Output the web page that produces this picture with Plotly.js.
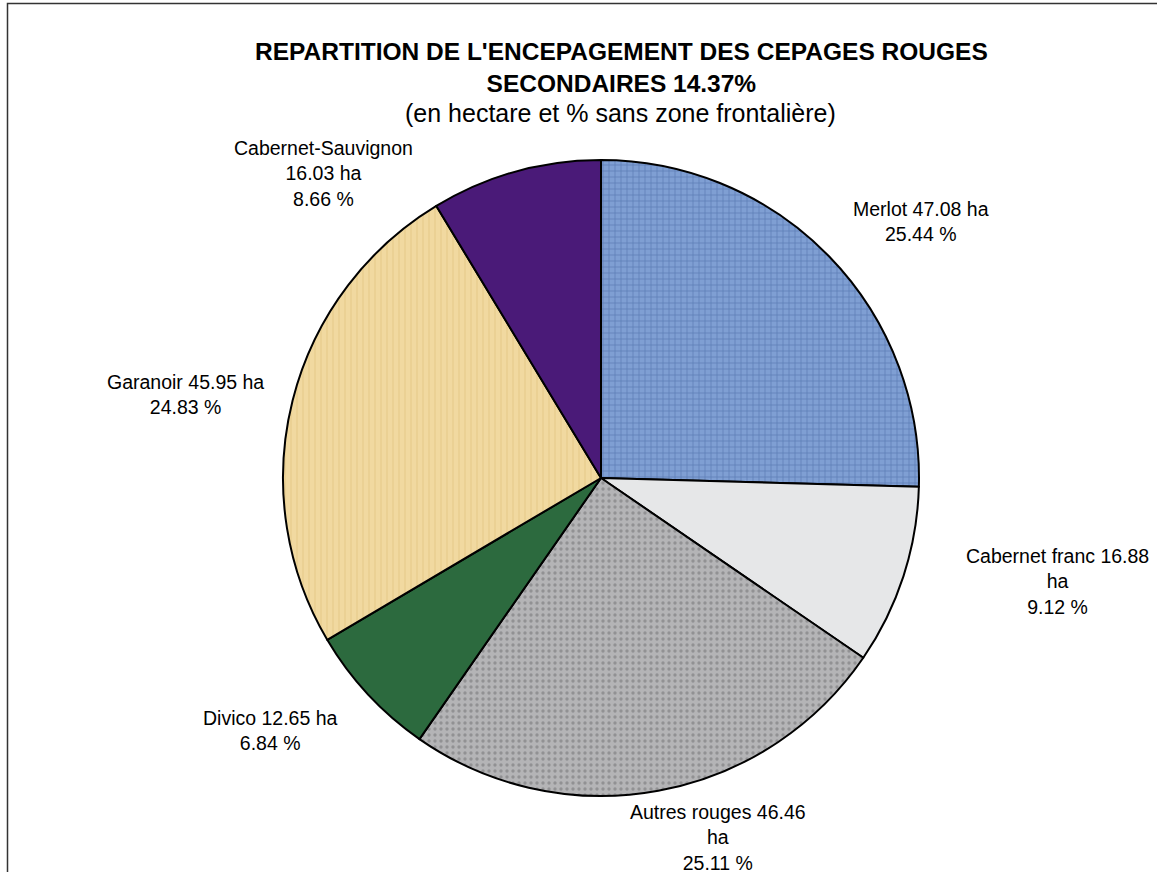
<!DOCTYPE html>
<html>
<head>
<meta charset="utf-8">
<script src="https://cdn.plot.ly/plotly-3.0.1.min.js"></script>
<style>html,body{margin:0;padding:0;background:#fff;}#chart{width:1157px;height:872px;}</style>
</head>
<body>
<div id="chart"></div>
<script>
const cepages = ["Merlot", "Cabernet franc", "Autres rouges", "Divico", "Garanoir", "Cabernet-Sauvignon"];
const hectares = [47.08, 16.88, 46.46, 12.65, 45.95, 16.03];
const pourcents = [25.44, 9.12, 25.11, 6.84, 24.83, 8.66];
const labelTexts = [
  "Merlot 47.08 ha<br>25.44 %",
  "Cabernet franc 16.88<br>ha<br>9.12 %",
  "Autres rouges 46.46<br>ha<br>25.11 %",
  "Divico 12.65 ha<br>6.84 %",
  "Garanoir 45.95 ha<br>24.83 %",
  "Cabernet-Sauvignon<br>16.03 ha<br>8.66 %"
];
const couleurs = ["#7f9fd3", "#e6e7e8", "#b4b4b6", "#2c6a3e", "#f1d9a0", "#4a1a78"];
const motifs = ["+", "", ".", "", "|", ""];
const motifCouleurs = ["#3d5f9a", "#ffffff", "#6e6e70", "#4f9a62", "#e2c47e", "#3a0f63"];
const labelPos = [
  [921, 221], [1057, 581], [718, 837], [270, 730], [185, 394], [323, 174]
];

const W = 1157, H = 872;
const cx = 601, cy = 478, R = 318;
const FONT = "Liberation Sans, Arial, Helvetica, sans-serif";

const trace = {
  type: "pie",
  labels: cepages,
  values: hectares,
  sort: false,
  direction: "clockwise",
  rotation: 0,
  textinfo: "none",
  hoverinfo: "label+value+percent",
  marker: {
    colors: couleurs,
    line: {color: "#000000", width: 2},
    pattern: {shape: motifs, fgcolor: motifCouleurs, size: 6, solidity: 0.25, fillmode: "overlay"}
  },
  domain: {x: [(cx - R) / W, (cx + R) / W], y: [1 - (cy + R) / H, 1 - (cy - R) / H]},
  showlegend: false
};

const annotations = labelTexts.map((t, i) => ({
  text: t,
  x: labelPos[i][0] / W,
  y: 1 - labelPos[i][1] / H,
  xref: "paper", yref: "paper",
  xanchor: "center", yanchor: "middle",
  showarrow: false,
  align: "center",
  font: {family: FONT, size: 19.5, color: "#000"}
}));

annotations.push({
  text: "<b>REPARTITION DE L'ENCEPAGEMENT DES CEPAGES ROUGES<br>SECONDAIRES 14.37%</b>",
  x: 621 / W, y: 1 - 68 / H, xref: "paper", yref: "paper",
  xanchor: "center", yanchor: "middle", showarrow: false, align: "center",
  font: {family: FONT, size: 24.5, color: "#000"}
});
annotations.push({
  text: "(en hectare et % sans zone frontalière)",
  x: 620 / W, y: 1 - 113 / H, xref: "paper", yref: "paper",
  xanchor: "center", yanchor: "middle", showarrow: false,
  font: {family: FONT, size: 25, color: "#000"}
});

const layout = {
  width: W, height: H,
  margin: {l: 0, r: 0, t: 0, b: 0},
  paper_bgcolor: "#ffffff",
  plot_bgcolor: "#ffffff",
  showlegend: false,
  annotations: annotations,
  shapes: [{
    type: "rect", xref: "paper", yref: "paper",
    x0: 7.5 / W, x1: 1.05, y0: -0.05, y1: 1 - 3.5 / H,
    line: {color: "#333333", width: 1.5}, fillcolor: "rgba(0,0,0,0)"
  }]
};

Plotly.newPlot("chart", [trace], layout, {displayModeBar: false, staticPlot: true});
</script>
</body>
</html>
